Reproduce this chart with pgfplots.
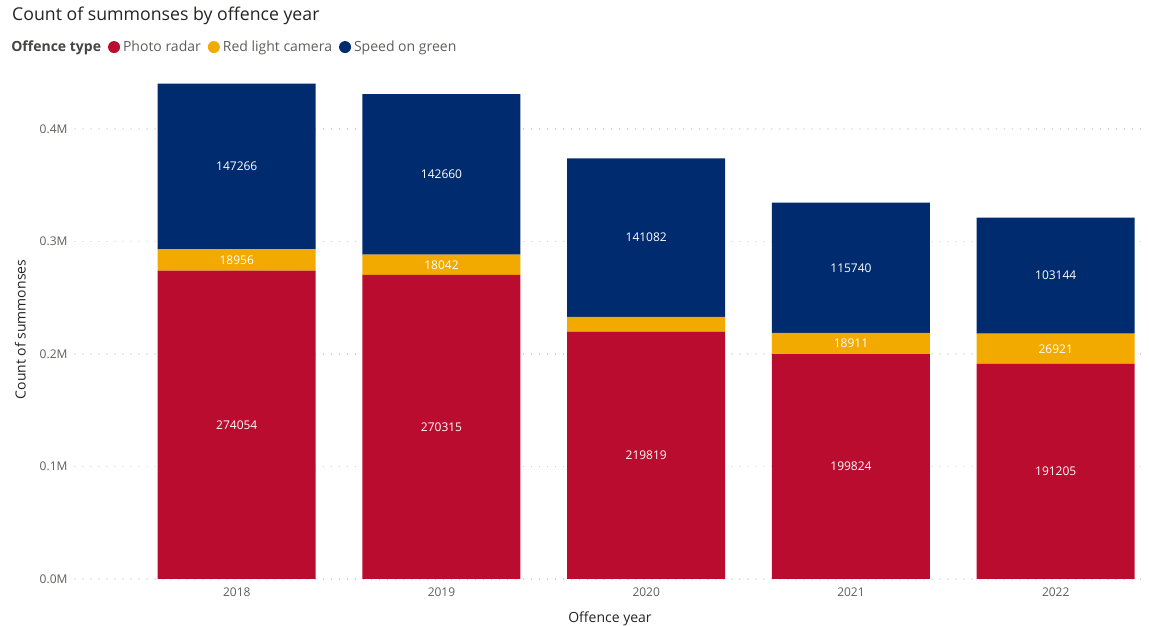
\documentclass[border=0pt]{standalone}
\usepackage{pgfplots}
\pgfplotsset{compat=1.18}
\usepackage{pgfplotstable}
\usepackage{fontspec}
\setmainfont{Open Sans}
\definecolor{prc}{HTML}{BA0C2F}
\definecolor{rlc}{HTML}{F2A900}
\definecolor{sgc}{HTML}{002B6E}
\definecolor{tickc}{HTML}{605E5C}
\definecolor{titc}{HTML}{252423}
\definecolor{gridc}{HTML}{C8C6C4}
\pgfplotstableread{
x pr rl sg prl rll sgl
0 0.274054 0.018956 0.147266 274054 18956 147266
1 0.270315 0.018042 0.142660 270315 18042 142660
2 0.219819 0.013100 0.141082 219819 {} 141082
3 0.199824 0.018911 0.115740 199824 18911 115740
4 0.191205 0.026921 0.103144 191205 26921 103144
}\data
\begin{document}
\begin{tikzpicture}
\path[use as bounding box] (0,0) rectangle (1149pt,626pt);
\node[anchor=base west, font=\fontsize{17.7}{20}\selectfont, text=titc, inner sep=0pt] at (12pt,605pt) {Count of summonses by offence year};
\begin{axis}[
  at={(75pt,47pt)}, anchor=south west,
  scale only axis, width=1070pt, height=499pt,
  ybar stacked, bar width=158pt,
  xmin=-0.79, xmax=4.436, ymin=0, ymax=0.4436,
  axis line style={draw=none}, tick style={draw=none},
  xtick={0,1,2,3,4}, xticklabels={2018,2019,2020,2021,2022},
  ytick={0,0.1,0.2,0.3,0.4}, yticklabels={0.0M,0.1M,0.2M,0.3M,0.4M},
  ymajorgrids, grid style={gridc, line width=1.2pt, dash pattern=on 0.01pt off 8pt, line cap=round},
  yticklabel style={font=\fontsize{12}{14}\selectfont, text=tickc, xshift=-4pt},
  xticklabel style={font=\fontsize{12}{14}\selectfont, text=tickc, yshift=-5pt},
  xlabel={Offence year}, ylabel={Count of summonses},
  xlabel style={font=\fontsize{14}{16}\selectfont, text=titc, yshift=-9pt},
  ylabel style={font=\fontsize{14}{16}\selectfont, text=titc, yshift=7pt},
  nodes near coords, point meta=explicit symbolic,
  every node near coord/.append style={font=\fontsize{12}{14}\selectfont, text=white, anchor=center},
  legend style={at={(axis description cs:-0.0653,1.066)}, anchor=west, draw=none, fill=none,
    legend columns=-1, font=\fontsize{14}{16}\selectfont, text=tickc,
    /tikz/every even column/.append style={column sep=5pt},
    /tikz/every odd column/.append style={column sep=1pt}},
]
\addlegendimage{empty legend}
\addlegendentry{\textbf{\textcolor{titc!85}{Offence type}}}
\addplot[fill=prc, draw=none,
  legend image code/.code={\fill[prc] (0pt,0pt) circle (6pt);}]
  table[x=x, y=pr, meta=prl] {\data};
\addlegendentry{Photo radar}
\addplot[fill=rlc, draw=none,
  legend image code/.code={\fill[rlc] (0pt,0pt) circle (6pt);}]
  table[x=x, y=rl, meta=rll] {\data};
\addlegendentry{Red light camera}
\addplot[fill=sgc, draw=none,
  legend image code/.code={\fill[sgc] (0pt,0pt) circle (6pt);}]
  table[x=x, y=sg, meta=sgl] {\data};
\addlegendentry{Speed on green}
\end{axis}
\end{tikzpicture}
\end{document}
